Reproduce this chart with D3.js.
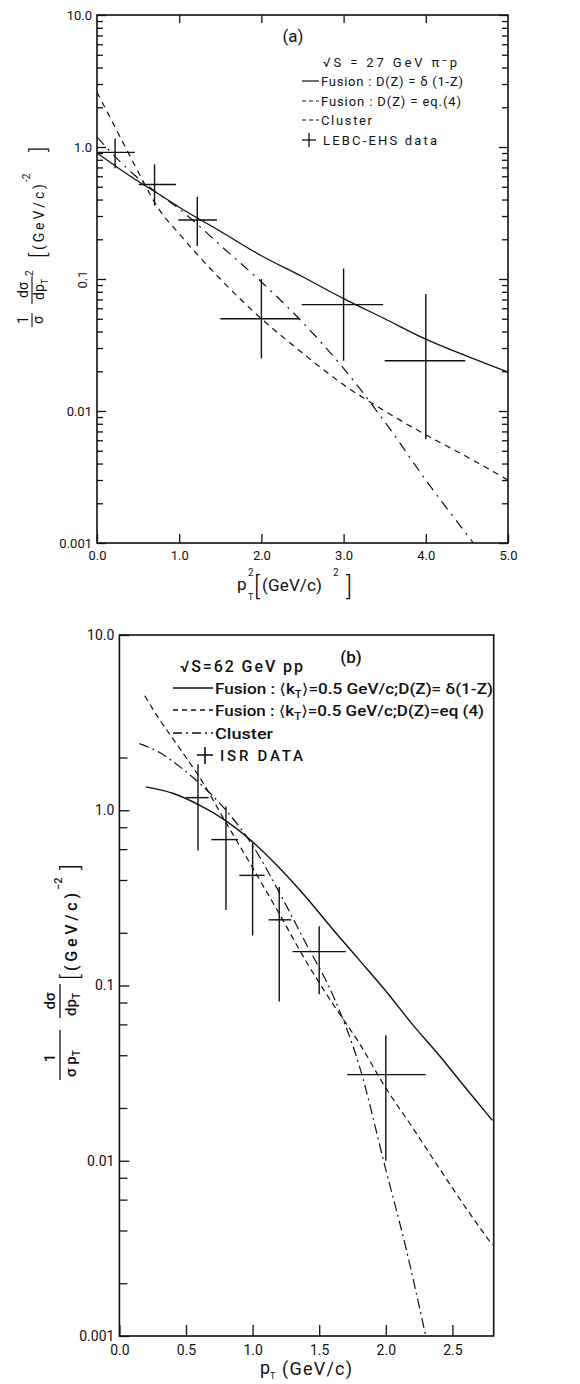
<!DOCTYPE html>
<html>
<head>
<meta charset="utf-8">
<script src="https://cdn.jsdelivr.net/npm/d3@7"></script>
<style>
  body { margin: 0; background: #fff; }
  svg { display: block; }
  text { font-family: Roboto, "Liberation Sans", "DejaVu Sans", sans-serif; fill: #111; }
</style>
</head>
<body>
<svg id="chart" width="580" height="1384"></svg>
<script>
// ---------- Panel (a): √s = 27 GeV π⁻p, invariant yield vs p_T² ----------
const aXTicks = [0, 1, 2, 3, 4, 5];
const aXTickLabels = ["0.0", "1.0", "2.0", "3.0", "4.0", "5.0"];
const aYTicks = [10, 1, 0.1, 0.01, 0.001];
const aYTickLabels = ["10.0", "1.0", "0.1", "0.01", "0.001"];

const aFusionDeltaX = [0, 0.25, 0.5, 0.75, 1.0, 1.5, 2.0, 2.5, 3.0, 3.5, 4.0, 4.5, 5.0];
const aFusionDeltaY = [0.90, 0.70, 0.55, 0.44, 0.35, 0.23, 0.15, 0.104, 0.071, 0.050, 0.035, 0.026, 0.0197];
const aFusionEq4X = [0, 0.25, 0.5, 0.75, 1.0, 1.5, 2.0, 2.5, 3.0, 3.5, 4.0, 4.5, 5.0];
const aFusionEq4Y = [2.6, 1.30, 0.65, 0.34, 0.22, 0.10, 0.050, 0.0275, 0.0158, 0.010, 0.0066, 0.0045, 0.0030];
const aClusterX = [0, 0.25, 0.5, 0.75, 1.0, 1.25, 1.5, 2.0, 2.5, 3.0, 3.5, 4.0, 4.58];
const aClusterY = [1.19, 0.81, 0.58, 0.44, 0.34, 0.25, 0.18, 0.095, 0.047, 0.021, 0.0083, 0.0030, 0.001];

// LEBC-EHS data: centre, x-bin edges, y error range
const aDataX = [0.22, 0.70, 1.22, 2.0, 3.0, 4.0];
const aDataY = [0.91, 0.52, 0.28, 0.050, 0.064, 0.024];
const aDataXLo = [0.0, 0.51, 0.99, 1.50, 2.49, 3.50];
const aDataXHi = [0.46, 0.96, 1.46, 2.47, 3.48, 4.48];
const aDataYLo = [0.69, 0.36, 0.178, 0.025, 0.024, 0.0061];
const aDataYHi = [1.16, 0.74, 0.42, 0.10, 0.12, 0.077];

// ---------- Panel (b): √s = 62 GeV pp, invariant yield vs p_T ----------
const bXTicks = [0, 0.5, 1.0, 1.5, 2.0, 2.5];
const bXTickLabels = ["0.0", "0.5", "1.0", "1.5", "2.0", "2.5"];
const bYTicks = [10, 1, 0.1, 0.01, 0.001];
const bYTickLabels = ["10.0", "1.0", "0.1", "0.01", "0.001"];
const bYMinorTicks = [2, 0.8, 0.6, 0.4, 0.2, 0.08, 0.06, 0.04, 0.02, 0.008, 0.006, 0.004, 0.002];

const bFusionDeltaX = [0.2, 0.4, 0.6, 0.8, 1.0, 1.2, 1.4, 1.6, 1.8, 2.0, 2.2, 2.4, 2.6, 2.8];
const bFusionDeltaY = [1.36, 1.25, 1.07, 0.87, 0.66, 0.47, 0.32, 0.21, 0.14, 0.093, 0.060, 0.040, 0.026, 0.017];
const bFusionEq4X = [0.19, 0.3, 0.4, 0.5, 0.6, 0.8, 1.0, 1.2, 1.4, 1.6, 1.8, 2.0, 2.2, 2.4, 2.6, 2.8];
const bFusionEq4Y = [4.5, 3.3, 2.57, 2.0, 1.55, 0.85, 0.47, 0.257, 0.138, 0.079, 0.047, 0.026, 0.0155, 0.0091, 0.0054, 0.0033];
const bClusterX = [0.15, 0.3, 0.45, 0.6, 0.8, 1.0, 1.2, 1.4, 1.6, 1.8, 2.0, 2.15, 2.3];
const bClusterY = [2.4, 2.14, 1.78, 1.43, 1.0, 0.63, 0.34, 0.174, 0.089, 0.035, 0.0089, 0.0032, 0.001];

// ISR data: centre, x-bin edges, y error range
const bDataX = [0.59, 0.80, 1.00, 1.20, 1.50, 2.00];
const bDataY = [1.18, 0.68, 0.425, 0.237, 0.156, 0.031];
const bDataXLo = [0.50, 0.69, 0.90, 1.12, 1.30, 1.71];
const bDataXHi = [0.67, 0.89, 1.09, 1.29, 1.70, 2.30];
const bDataYLo = [0.59, 0.27, 0.193, 0.081, 0.089, 0.010];
const bDataYHi = [1.83, 1.05, 0.65, 0.365, 0.218, 0.052];

const svg = d3.select("#chart");
const INK = "#111";

function zip(xs, ys) { return xs.map((v, i) => [v, ys[i]]); }

function minorLogTicks(lo, hi) {
  const out = [];
  for (let p = Math.log10(lo); p < Math.log10(hi); p++) {
    for (let k = 2; k <= 9; k++) out.push(k * Math.pow(10, p));
  }
  return out;
}

function drawCurves(g, x, y, curves, clipId) {
  const line = d3.line().x(d => x(d[0])).y(d => y(d[1])).curve(d3.curveMonotoneX);
  const cg = g.append("g").attr("clip-path", `url(#${clipId})`);
  curves.forEach(c => {
    cg.append("path")
      .attr("d", line(zip(c.xs, c.ys)))
      .attr("fill", "none")
      .attr("stroke", INK)
      .attr("stroke-width", c.w || 1.2)
      .attr("stroke-dasharray", c.dash || null);
  });
}

function drawErrorCrosses(g, x, y, xs, ys, xlo, xhi, ylo, yhi) {
  const pts = xs.map((v, i) => ({ x: v, y: ys[i], xl: xlo[i], xh: xhi[i], yl: ylo[i], yh: yhi[i] }));
  const cross = g.append("g").attr("stroke", INK).attr("stroke-width", 1.4);
  cross.selectAll("line.h").data(pts).join("line").attr("class", "h")
    .attr("x1", d => x(d.xl)).attr("x2", d => x(d.xh))
    .attr("y1", d => y(d.y)).attr("y2", d => y(d.y));
  cross.selectAll("line.v").data(pts).join("line").attr("class", "v")
    .attr("x1", d => x(d.x)).attr("x2", d => x(d.x))
    .attr("y1", d => y(d.yl)).attr("y2", d => y(d.yh));
}

function frame(g, x, y, clipId) {
  const [x0, x1] = x.range(), [y0, y1] = y.range();
  g.append("clipPath").attr("id", clipId).append("rect")
    .attr("x", x0).attr("y", y1).attr("width", x1 - x0).attr("height", y0 - y1);
  g.append("rect").attr("x", x0).attr("y", y1).attr("width", x1 - x0).attr("height", y0 - y1)
    .attr("fill", "none").attr("stroke", INK).attr("stroke-width", 1.6);
}

function styleAxis(sel, size) {
  sel.select(".domain").remove();
  sel.selectAll(".tick line").attr("stroke", INK).attr("stroke-width", 1.3);
  sel.selectAll(".tick text").attr("fill", INK).attr("font-size", size)
    .attr("font-family", "Roboto, 'Liberation Sans', sans-serif");
}

// ======================= Panel (a) =======================
{
  const x = d3.scaleLinear().domain([0, 5]).range([97, 508]);
  const y = d3.scaleLog().domain([0.001, 10]).range([543, 15]);
  const g = svg.append("g");
  const [xL, xR] = x.range(), [yB, yT] = y.range();

  frame(g, x, y, "clipA");

  // bottom ticks + labels
  g.append("g").attr("transform", `translate(0,${yB})`)
    .call(d3.axisBottom(x).tickValues(aXTicks).tickSizeInner(-9).tickSizeOuter(0).tickPadding(8)
      .tickFormat((d, i) => aXTickLabels[i]))
    .call(s => styleAxis(s, 13));
  // top ticks
  g.append("g").attr("transform", `translate(0,${yT})`)
    .call(d3.axisTop(x).tickValues(aXTicks.slice(1, -1)).tickSizeInner(-8).tickSizeOuter(0).tickFormat(""))
    .call(s => styleAxis(s, 0));
  // left ticks: decades with labels, minor ticks
  g.append("g").attr("transform", `translate(${xL},0)`)
    .call(d3.axisLeft(y).tickValues(aYTicks).tickSizeInner(-9).tickSizeOuter(0).tickPadding(5)
      .tickFormat((d, i) => aYTickLabels[i]))
    .call(s => styleAxis(s, 13))
    .call(s => s.selectAll(".tick text").filter(d => d === 0.1)
      .attr("transform", "rotate(-90)").attr("x", 0).attr("y", -14).attr("dy", "0.32em")
      .attr("text-anchor", "middle"));
  g.append("g").attr("transform", `translate(${xL},0)`)
    .call(d3.axisLeft(y).tickValues(minorLogTicks(0.001, 10)).tickSizeInner(-6).tickSizeOuter(0).tickFormat(""))
    .call(s => styleAxis(s, 0));
  // right ticks (inward)
  g.append("g").attr("transform", `translate(${xR},0)`)
    .call(d3.axisRight(y).tickValues(aYTicks).tickSizeInner(-9).tickSizeOuter(0).tickFormat(""))
    .call(s => styleAxis(s, 0));
  g.append("g").attr("transform", `translate(${xR},0)`)
    .call(d3.axisRight(y).tickValues(minorLogTicks(0.001, 10)).tickSizeInner(-6).tickSizeOuter(0).tickFormat(""))
    .call(s => styleAxis(s, 0));

  drawCurves(g, x, y, [
    { xs: aFusionDeltaX, ys: aFusionDeltaY, w: 1.3 },
    { xs: aFusionEq4X, ys: aFusionEq4Y, dash: "6,5" },
    { xs: aClusterX, ys: aClusterY, dash: "10,6,2,6" }
  ], "clipA");
  drawErrorCrosses(g, x, y, aDataX, aDataY, aDataXLo, aDataXHi, aDataYLo, aDataYHi);

  // legend
  const lg = g.append("g");
  lg.append("text").attr("x", 293).attr("y", 42).attr("text-anchor", "middle")
    .attr("font-size", 17).text("(a)");
  lg.append("text").attr("x", 323).attr("y", 67).attr("font-size", 13)
    .attr("textLength", 134).attr("lengthAdjust", "spacing").text("√S = 27 GeV π⁻p");
  const rowsA = [
    { label: "Fusion : D(Z) = δ (1-Z)", dash: null, w: 142, yc: 81 },
    { label: "Fusion : D(Z) = eq.(4)", dash: "4,3", w: 140, yc: 101 },
    { label: "Cluster", dash: "4,3", w: 51, yc: 120 }
  ];
  rowsA.forEach(r => {
    lg.append("line").attr("x1", 302).attr("x2", 319).attr("y1", r.yc).attr("y2", r.yc)
      .attr("stroke", INK).attr("stroke-width", 1.2).attr("stroke-dasharray", r.dash);
    lg.append("text").attr("x", 321).attr("y", r.yc + 5).attr("font-size", 13)
      .attr("textLength", r.w).attr("lengthAdjust", "spacing").text(r.label);
  });
  lg.append("line").attr("x1", 302).attr("x2", 316).attr("y1", 140).attr("y2", 140)
    .attr("stroke", INK).attr("stroke-width", 1.3);
  lg.append("line").attr("x1", 309).attr("x2", 309).attr("y1", 133).attr("y2", 147)
    .attr("stroke", INK).attr("stroke-width", 1.3);
  lg.append("text").attr("x", 323).attr("y", 145).attr("font-size", 13)
    .attr("textLength", 114).attr("lengthAdjust", "spacing").text("LEBC-EHS data");

  // x title: p_T² [(GeV/c)²]
  const xt = g.append("g").attr("font-size", 17);
  xt.append("text").attr("x", 237).attr("y", 590).text("p");
  xt.append("text").attr("x", 248).attr("y", 600).attr("font-size", 9).text("T");
  xt.append("text").attr("x", 248).attr("y", 576).attr("font-size", 10).text("2");
  xt.append("text").attr("x", 254).attr("y", 595).attr("font-size", 25).attr("font-weight", 300).text("[");
  xt.append("text").attr("x", 262).attr("y", 591).attr("textLength", 60).attr("lengthAdjust", "spacing").text("(GeV/c)");
  xt.append("text").attr("x", 333).attr("y", 576).attr("font-size", 10).text("2");
  xt.append("text").attr("x", 346).attr("y", 595).attr("font-size", 25).attr("font-weight", 300).text("]");

  // y title (rotated): 1/σ · dσ/dp_T² [(GeV/c)⁻²]
  const yt = g.append("g").attr("transform", "translate(35,260) rotate(-90)");
  yt.append("text").attr("x", -60).attr("y", -7).attr("text-anchor", "middle").attr("font-size", 14).text("1");
  yt.append("line").attr("x1", -67).attr("x2", -53).attr("y1", -3).attr("y2", -3).attr("stroke", INK).attr("stroke-width", 1.1);
  yt.append("text").attr("x", -60).attr("y", 8).attr("text-anchor", "middle").attr("font-size", 14).text("σ");
  yt.append("text").attr("x", -30).attr("y", -7).attr("text-anchor", "middle").attr("font-size", 14).text("dσ");
  yt.append("line").attr("x1", -44).attr("x2", -16).attr("y1", -3).attr("y2", -3).attr("stroke", INK).attr("stroke-width", 1.1);
  const den = yt.append("text").attr("x", -40).attr("y", 9).attr("font-size", 14);
  den.append("tspan").text("dp");
  den.append("tspan").attr("font-size", 9).attr("dy", 4).text("T");
  yt.append("text").attr("x", -16).attr("y", -2).attr("font-size", 10).text("2");
  yt.append("text").attr("x", 2).attr("y", 11).attr("font-size", 22).attr("font-weight", 300).text("[");
  yt.append("text").attr("x", 10).attr("y", 9).attr("font-size", 14)
    .attr("textLength", 66).attr("lengthAdjust", "spacing").text("(GeV/c)");
  yt.append("text").attr("x", 78).attr("y", -5).attr("font-size", 10).text("-2");
  yt.append("text").attr("x", 108).attr("y", 11).attr("font-size", 22).attr("font-weight", 300).text("]");
}

// ======================= Panel (b) =======================
{
  const x = d3.scaleLinear().domain([0, 2.81]).range([119.4, 493.7]);
  const y = d3.scaleLog().domain([0.001, 10]).range([1336, 635]);
  const g = svg.append("g");
  const [xL] = x.range(), [yB] = y.range();

  frame(g, x, y, "clipB");

  g.append("g").attr("transform", `translate(0,${yB})`)
    .call(d3.axisBottom(x).tickValues(bXTicks).tickSizeInner(-11).tickSizeOuter(0).tickPadding(9)
      .tickFormat((d, i) => bXTickLabels[i]))
    .call(s => styleAxis(s, 14));
  g.append("g").attr("transform", `translate(${xL},0)`)
    .call(d3.axisLeft(y).tickValues(bYTicks).tickSizeInner(-10).tickSizeOuter(0).tickPadding(5)
      .tickFormat((d, i) => bYTickLabels[i]))
    .call(s => styleAxis(s, 14));
  g.append("g").attr("transform", `translate(${xL},0)`)
    .call(d3.axisLeft(y).tickValues(bYMinorTicks).tickSizeInner(-8).tickSizeOuter(0).tickFormat(""))
    .call(s => styleAxis(s, 0));

  drawCurves(g, x, y, [
    { xs: bFusionDeltaX, ys: bFusionDeltaY, w: 1.4 },
    { xs: bFusionEq4X, ys: bFusionEq4Y, dash: "6,4" },
    { xs: bClusterX, ys: bClusterY, dash: "10,4,2,4" }
  ], "clipB");
  drawErrorCrosses(g, x, y, bDataX, bDataY, bDataXLo, bDataXHi, bDataYLo, bDataYHi);

  // legend
  const lg = g.append("g").attr("font-weight", 500);
  lg.append("text").attr("x", 351).attr("y", 663).attr("text-anchor", "middle")
    .attr("font-size", 17).text("(b)");
  lg.append("text").attr("x", 180).attr("y", 672).attr("font-size", 16)
    .attr("textLength", 123).attr("lengthAdjust", "spacing").text("√S=62 GeV pp");
  const rowsB = [
    { parts: ["Fusion : ⟨k", "T", "⟩=0.5 GeV/c;D(Z)= δ(1-Z)"], dash: null, w: 278, yc: 688 },
    { parts: ["Fusion : ⟨k", "T", "⟩=0.5 GeV/c;D(Z)=eq (4)"], dash: "5,4", w: 269, yc: 710 },
    { parts: ["Cluster"], dash: "9,4,2,4", w: 58, yc: 733 }
  ];
  rowsB.forEach(r => {
    lg.append("line").attr("x1", 173).attr("x2", 213).attr("y1", r.yc).attr("y2", r.yc)
      .attr("stroke", INK).attr("stroke-width", 1.4).attr("stroke-dasharray", r.dash);
    const t = lg.append("text").attr("x", 215).attr("y", r.yc + 6).attr("font-size", 15)
      .attr("textLength", r.w).attr("lengthAdjust", "spacingAndGlyphs");
    t.append("tspan").text(r.parts[0]);
    if (r.parts.length > 1) {
      t.append("tspan").attr("font-size", 10).attr("dy", 4).text(r.parts[1]);
      t.append("tspan").attr("dy", -4).text(r.parts[2]);
    }
  });
  lg.append("line").attr("x1", 197).attr("x2", 213).attr("y1", 755).attr("y2", 755)
    .attr("stroke", INK).attr("stroke-width", 1.6);
  lg.append("line").attr("x1", 205).attr("x2", 205).attr("y1", 747).attr("y2", 764)
    .attr("stroke", INK).attr("stroke-width", 1.6);
  lg.append("text").attr("x", 220).attr("y", 761).attr("font-size", 15)
    .attr("textLength", 83).attr("lengthAdjust", "spacing").text("ISR DATA");

  // x title: p_T (GeV/c)
  const xt = g.append("g").attr("font-size", 18);
  xt.append("text").attr("x", 260).attr("y", 1374).text("p");
  xt.append("text").attr("x", 270).attr("y", 1379).attr("font-size", 9).text("T");
  xt.append("text").attr("x", 282).attr("y", 1375).attr("textLength", 70).attr("lengthAdjust", "spacing").text("(GeV/c)");

  // y title (rotated): 1/(σ p_T) · dσ/dp_T [(GeV/c)⁻²]
  const yt = g.append("g").attr("transform", "translate(60,980) rotate(-90)").attr("font-weight", 500);
  yt.append("text").attr("x", -78).attr("y", -5).attr("text-anchor", "middle").attr("font-size", 15).text("1");
  yt.append("line").attr("x1", -100).attr("x2", -50).attr("y1", 0).attr("y2", 0).attr("stroke", INK).attr("stroke-width", 1.3);
  const d1 = yt.append("text").attr("x", -97).attr("y", 16).attr("font-size", 15);
  d1.append("tspan").text("σ p");
  d1.append("tspan").attr("font-size", 10).attr("dy", 4).text("T");
  yt.append("text").attr("x", -21).attr("y", -5).attr("text-anchor", "middle").attr("font-size", 15).text("dσ");
  yt.append("line").attr("x1", -38).attr("x2", -4).attr("y1", 0).attr("y2", 0).attr("stroke", INK).attr("stroke-width", 1.3);
  const d2 = yt.append("text").attr("x", -36).attr("y", 16).attr("font-size", 15);
  d2.append("tspan").text("dp");
  d2.append("tspan").attr("font-size", 10).attr("dy", 4).text("T");
  yt.append("text").attr("x", 0).attr("y", 19).attr("font-size", 24).attr("font-weight", 300).text("[");
  yt.append("text").attr("x", 9).attr("y", 17).attr("font-size", 16)
    .attr("textLength", 78).attr("lengthAdjust", "spacing").text("(GeV/c)");
  yt.append("text").attr("x", 90).attr("y", 2).attr("font-size", 11).text("−2");
  yt.append("text").attr("x", 110).attr("y", 19).attr("font-size", 24).attr("font-weight", 300).text("]");
}
</script>
</body>
</html>
